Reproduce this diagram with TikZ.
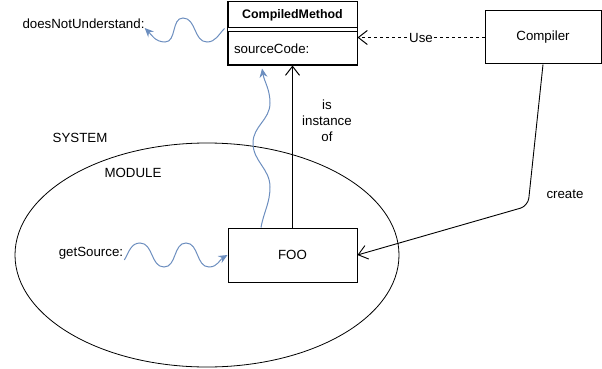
\documentclass[tikz,border=0pt]{standalone}
\usepackage{fontspec}
\setmainfont{Liberation Sans}
\usetikzlibrary{arrows.meta, shapes.geometric}
\definecolor{wBlue}{RGB}{108,142,191}
\newcommand{\diafont}{\fontsize{13.3}{16}\selectfont}

\begin{document}
\begin{tikzpicture}[
  x=1pt, y=-1pt,
  every node/.append style={font=\diafont},
  box/.style={draw, line width=1pt, minimum width=129pt, inner sep=0pt, align=center},
  lbl/.style={inner sep=0pt, align=center},
  openarrow/.style={-{Straight Barb[length=9pt, width=14pt]}, line width=1pt},
  wave/.style={-{Stealth[length=9pt, width=8pt, inset=3pt]}, line width=1pt, color=wBlue},
]
  \useasboundingbox (0,0) rectangle (602,369);

  % containers
  \node[draw, ellipse, line width=0.8pt, minimum width=384pt, minimum height=224pt,
        inner sep=0pt] (module) at (207,255) {};
  \node[lbl] (system) at (80,138) {SYSTEM};
  \node[lbl] (modlbl) at (133,173) {MODULE};

  % class box
  \node[box, minimum height=26pt, font=\diafont\fontsize{12.4}{15}\selectfont\bfseries]
    (cm) at (292.5,15) {CompiledMethod};
  \node[box, minimum height=33pt, text width=117pt, align=left, inner xsep=6pt]
    (src) at (292.5,48.5) {sourceCode:};
  \draw[line width=1pt] (cm.north west) rectangle (src.south east);

  \node[box, minimum width=116pt, minimum height=53pt] (compiler) at (543,37.5) {Compiler};
  \node[box, minimum height=54pt] (foo) at (292.5,255) {FOO};

  \node[lbl] (dnu) at (83.5,24) {doesNotUnderstand:};
  \node[lbl] (gs) at (91,253) {getSource:};
  \node[lbl] (isinst) at (327,121) {is\\instance\\of};
  \node[lbl] (create) at (565,194) {create};
  \coordinate (bend) at (528,206);

  % relations
  \draw[openarrow] (foo.north) -- (src.south);
  \draw[openarrow, dash pattern=on 3pt off 3pt] (compiler.west) -- (compiler.west -| src.east)
    node[midway, fill=white, inner sep=1pt] (use) {Use};
  \draw[openarrow, rounded corners=8pt, line width=0.9pt] (compiler.south) -- (bend) -- (foo.east);

  % messages
  \draw[wave] ([xshift=-3pt]cm.south west) to[out=225, in=0] (207,42)
    to[out=180, in=0] (183,18) to[out=180, in=0] (165,42)
    to[out=180, in=-45] ([yshift=-4pt]dnu.east);
  \draw[wave] ([shift={(1pt,-7pt)}]gs.east) to[out=60, in=180] (140,243)
    to[out=0, in=180] (164,267) to[out=0, in=180] (186,243)
    to[out=0, in=180] (209,267) to[out=0, in=210] (foo.west);
  \draw[wave] ([xshift=-31.5pt]foo.north) to[out=80, in=-90] (270,187)
    to[out=90, in=-90] (253,143) to[out=90, in=-90] (270,103)
    to[out=90, in=-80] ([shift={(-30.5pt,-3pt)}]src.south);
\end{tikzpicture}
\end{document}
